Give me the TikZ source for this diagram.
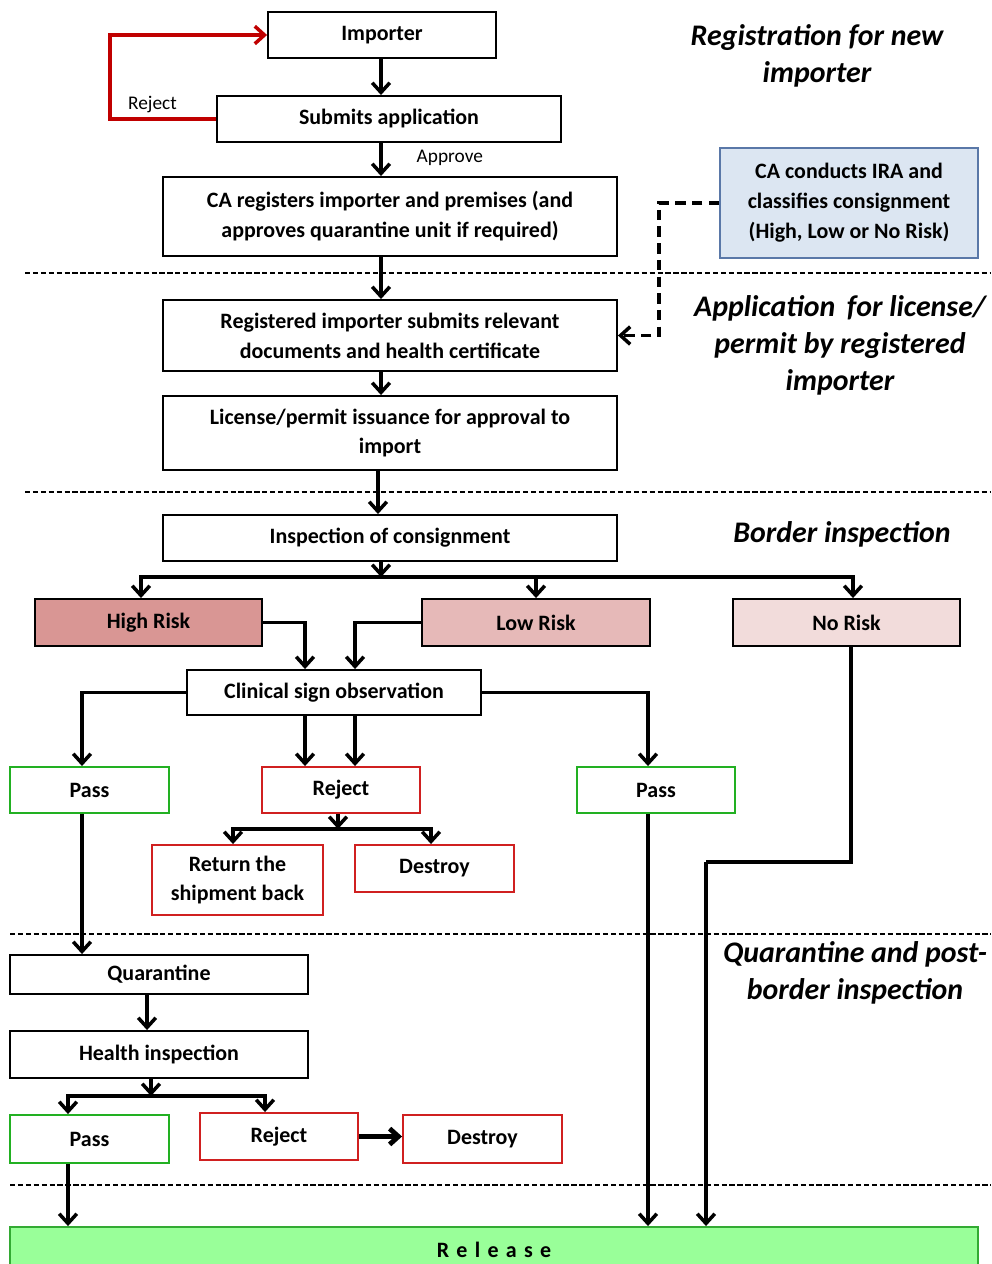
\documentclass[tikz,border=0pt]{standalone}
\usepackage{fontspec}
\setmainfont{Carlito}
\usetikzlibrary{arrows.meta}

\definecolor{highrisk}{HTML}{D99694}
\definecolor{lowrisk}{HTML}{E6B9B8}
\definecolor{norisk}{HTML}{F2DCDB}
\definecolor{irafill}{HTML}{DCE6F2}
\definecolor{iraline}{HTML}{5A78A8}
\definecolor{passgreen}{HTML}{22B022}
\definecolor{rejred}{HTML}{D02020}
\definecolor{loopred}{HTML}{C00000}
\definecolor{relfill}{HTML}{99FF99}
\definecolor{relline}{HTML}{33AA33}

\tikzset{
  box/.style={draw, line width=1.1pt, align=center, inner sep=2pt,
    font=\bfseries\fontsize{12.5}{17}\selectfont},
  passbox/.style={box, draw=passgreen},
  rejbox/.style={box, draw=rejred},
  title/.style={align=center, font=\bfseries\itshape\fontsize{17}{21}\selectfont},
  arr/.style={-{Straight Barb[length=5.5pt,width=10pt]}, line width=2pt},
  link/.style={line width=2pt},
  sep/.style={line width=0.7pt, dash pattern=on 3pt off 1.5pt},
}

\begin{document}
\begin{tikzpicture}[x=0.02cm,y=-0.02cm]
\useasboundingbox (0,0) rectangle (991,1264);

% stage separators
\foreach \y/\s in {273/25,492/25,934/10,1185/10}
  \draw[sep] (\s,\y) -- (991,\y);

% stage titles
\node[title] (t1) at (817,56) {Registration for new\\importer};
\node[title] (t2) at (840,345) {Application\, for license/\\permit by registered\\importer};
\node[title] (t3) at (842,534) {Border inspection};
\node[title] (t4) at (855,973) {Quarantine and post-\\border inspection};

% registration
\node[box, minimum width=4.56cm, minimum height=0.92cm] (imp) at (382,35) {Importer};
\node[box, minimum width=6.88cm, minimum height=0.92cm] (sub) at (389,119) {Submits application};
\node[box, minimum width=9.08cm, minimum height=1.58cm] (careg) at (390,216.5)
  {CA registers importer and premises (and\\approves quarantine unit if required)};
\node[box, fill=irafill, draw=iraline, minimum width=5.16cm, minimum height=2.2cm] (ira) at (849,203)
  {CA conducts IRA and\\classifies consignment\\(High, Low or No Risk)};

% license
\node[box, minimum width=9.08cm, minimum height=1.42cm] (regimp) at (390,335.5)
  {Registered importer submits relevant\\documents and health certificate};
\node[box, minimum width=9.08cm, minimum height=1.48cm] (lic) at (390,433)
  {License/permit issuance for approval to\\import};

% border
\node[box, minimum width=9.08cm, minimum height=0.92cm] (insp) at (390,538) {Inspection of consignment};
\node[box, fill=highrisk, minimum width=4.54cm, minimum height=0.94cm] (high) at (148.5,622.5) {High Risk};
\node[box, fill=lowrisk, minimum width=4.56cm, minimum height=0.94cm] (low) at (536,622.5) {Low Risk};
\node[box, fill=norisk, minimum width=4.54cm, minimum height=0.94cm] (nor) at (846.5,622.5) {No Risk};
\node[box, minimum width=5.88cm, minimum height=0.9cm] (clin) at (334,692.5) {Clinical sign observation};
\node[passbox, minimum width=3.18cm, minimum height=0.92cm] (passa) at (89.5,790) {Pass};
\node[rejbox, minimum width=3.16cm, minimum height=0.92cm] (reja) at (341,790) {Reject};
\node[passbox, minimum width=3.16cm, minimum height=0.92cm] (passb) at (656,790) {Pass};
\node[rejbox, minimum width=3.42cm, minimum height=1.4cm] (ret) at (237.5,880) {Return the\\shipment back};
\node[rejbox, minimum width=3.18cm, minimum height=0.94cm] (desa) at (434.5,868.5) {Destroy};

% quarantine
\node[box, minimum width=5.96cm, minimum height=0.78cm] (quar) at (159,974.5) {Quarantine};
\node[box, minimum width=5.96cm, minimum height=0.94cm] (health) at (159,1054.5) {Health inspection};
\node[passbox, minimum width=3.18cm, minimum height=0.96cm] (passc) at (89.5,1139) {Pass};
\node[rejbox, minimum width=3.16cm, minimum height=0.94cm] (rejc) at (279,1136.5) {Reject};
\node[rejbox, minimum width=3.18cm, minimum height=0.96cm] (desc) at (482.5,1139) {Destroy};

\node[box, fill=relfill, draw=relline, minimum width=19.36cm, minimum height=0.92cm] (rel) at (494,1250)
  {R\,\,e\,\,l\,\,e\,\,a\,\,s\,\,e};

% registration flow
\draw[arr] (imp.south -| 381,0) -- (381,0 |- sub.north);
\draw[arr] (381,0 |- sub.south) -- (381,0 |- careg.north)
  node[pos=0.45, right=16pt, font=\fontsize{11}{13}\selectfont] (appr) {Approve};
\draw[arr, loopred] (sub.west)
  -- node[pos=0.6, above=-1pt, black, font=\fontsize{11}{13}\selectfont] (rejl) {Reject}
  ++(-106,0) |- (imp.west);
\draw[arr] (381,0 |- careg.south) -- (381,0 |- regimp.north);
\draw[arr, dash pattern=on 6pt off 3.5pt] (ira.west) -- ++(-60,0) |- (regimp.east);
\draw[arr] (381,0 |- regimp.south) -- (381,0 |- lic.north);
\draw[arr] (378,0 |- lic.south) -- (378,0 |- insp.north);

% risk split
\coordinate (riskbus) at (381,577);
\draw[arr] (riskbus |- insp.south) -- (riskbus);
\draw[arr] (riskbus) -| (141,0 |- high.north);
\draw[arr] (riskbus) -| (low.north);
\draw[arr] (riskbus) -| (853,0 |- nor.north);
\draw[arr] (high.east) -| (305,0 |- clin.north);
\draw[arr] (low.west) -| (355,0 |- clin.north);

% clinical outcomes
\draw[arr] (clin.west) -| (82,0 |- passa.north);
\draw[arr] (clin.east) -| (648,0 |- passb.north);
\draw[arr] (305,0 |- clin.south) -- (305,0 |- reja.north);
\draw[arr] (355,0 |- clin.south) -- (355,0 |- reja.north);
\coordinate (rejbus) at (338,829);
\draw[arr] (rejbus |- reja.south) -- (rejbus);
\draw[arr] (rejbus) -| (233,0 |- ret.north);
\draw[arr] (rejbus) -| (431,0 |- desa.north);

% quarantine flow
\draw[arr] (82,0 |- passa.south) -- (82,0 |- quar.north);
\draw[arr] (147,0 |- quar.south) -- (147,0 |- health.north);
\coordinate (hbus) at (151,1096);
\draw[arr] (hbus |- health.south) -- (hbus);
\draw[arr] (hbus) -| (68,0 |- passc.north);
\draw[arr] (hbus) -| (265,0 |- rejc.north);
\draw[-{Straight Barb[length=5pt,width=9pt]}, line width=2.8pt] (rejc.east) -- (rejc.east -| desc.west);

% release
\draw[arr] (68,0 |- passc.south) -- (68,0 |- rel.north);
\draw[arr] (648,0 |- passb.south) -- (648,0 |- rel.north);
\coordinate (nrturn) at (706,862);
\draw[link] (851,0 |- nor.south) |- (nrturn);
\draw[arr] (nrturn) -- (nrturn |- rel.north);
\end{tikzpicture}
\end{document}
